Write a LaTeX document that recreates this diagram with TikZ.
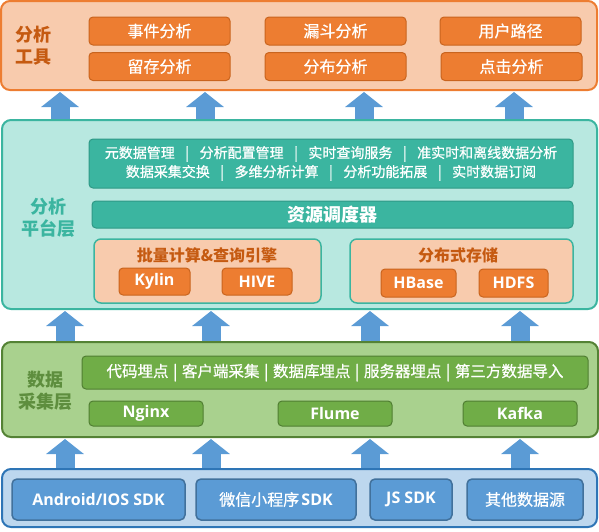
\documentclass[tikz,border=0pt]{standalone}
\usepackage{fontspec}
\setmainfont{Noto Sans CJK SC}
\newfontfamily\cjkm{Noto Sans CJK SC}[FakeBold=0.7]
\newfontfamily\lat{Open Sans}
\usetikzlibrary{arrows.meta}
\definecolor{orL}{HTML}{F8CBAD}
\definecolor{orB}{HTML}{ED7D31}
\definecolor{orD}{HTML}{C9641E}
\definecolor{orT}{HTML}{C55A11}
\definecolor{tlL}{HTML}{B8E8E0}
\definecolor{tlB}{HTML}{3BB5A0}
\definecolor{tlD}{HTML}{2F9986}
\definecolor{grL}{HTML}{A9D18E}
\definecolor{grB}{HTML}{548235}
\definecolor{grM}{HTML}{70AD47}
\definecolor{grD}{HTML}{507E32}
\definecolor{grT}{HTML}{5E8E3E}
\definecolor{blL}{HTML}{BDD7EE}
\definecolor{blB}{HTML}{2E75B6}
\definecolor{blM}{HTML}{5B9BD5}
\definecolor{blD}{HTML}{41719C}
\newcommand\barsepA{\hspace{0.75em}|\hspace{0.75em}}
\newcommand\barsepB{\hspace{0.3em}|\hspace{0.3em}}
\begin{document}
\begin{tikzpicture}[x=1pt,y=-1pt,
  panel/.style={draw, line width=2pt, rounded corners=9pt, inner sep=0pt},
  box/.style={draw, line width=1pt, rounded corners=4pt, inner sep=0pt, text=white},
  orpanel/.style={panel, draw=orB, fill=orL},
  tlpanel/.style={panel, draw=tlB, fill=tlL},
  grpanel/.style={panel, draw=grB, fill=grL},
  blpanel/.style={panel, draw=blB, fill=blL},
  obtn/.style={box, draw=orD, fill=orB},
  tbox/.style={box, draw=tlD, fill=tlB},
  pbox/.style={box, line width=1.5pt, rounded corners=7pt, draw=tlB, fill=orL},
  gbox/.style={box, draw=grD, fill=grM},
  bbox/.style={box, line width=1.5pt, rounded corners=5pt, draw=blD, fill=blM},
  cjk/.style={font=\cjkm\fontsize{16}{19}\selectfont},
  latb/.style={font=\lat\bfseries\fontsize{16}{19}\selectfont},
  layerlabel/.style={align=center, font=\bfseries\fontsize{18}{22}\selectfont},
  arr/.style={draw=blM, line width=19pt, -{Triangle[width=37pt,length=15pt]}, shorten >=1pt}
]
\useasboundingbox (0,0) rectangle (599,531);

% ---------- top layer: analysis tools
\node[orpanel, minimum width=596pt, minimum height=89pt] (top) at (299,45.5) {};
\node[layerlabel, text=orT] (toplbl) at (34,46) {分析\\工具};
\node[obtn, cjk, minimum width=141pt, minimum height=28pt] (b1) at (159.5,31) {事件分析};
\node[obtn, cjk, minimum width=141pt, minimum height=28pt] (b2) at (335.5,31) {漏斗分析};
\node[obtn, cjk, minimum width=141pt, minimum height=28pt] (b3) at (510.5,31) {用户路径};
\node[obtn, cjk, minimum width=141pt, minimum height=28pt] (b4) at (159.5,66.5) {留存分析};
\node[obtn, cjk, minimum width=141pt, minimum height=28pt] (b5) at (335.5,66.5) {分布分析};
\node[obtn, cjk, minimum width=141pt, minimum height=28pt] (b6) at (511.5,66.5) {点击分析};

% ---------- platform layer
\node[tlpanel, minimum width=595pt, minimum height=189pt] (plat) at (299.5,214.5) {};
\node[layerlabel, text=tlB] (platlbl) at (48,218) {分析\\平台层};
\node[tbox, minimum width=484pt, minimum height=49pt, align=center,
      font=\cjkm\fontsize{14}{19}\selectfont] (meta) at (331,163.5)
  {元数据管理\barsepA 分析配置管理\barsepA 实时查询服务\barsepA 准实时和离线数据分析\\
   数据采集交换\barsepA 多维分析计算\barsepA 分析功能拓展\barsepA 实时数据订阅};
\node[tbox, minimum width=481pt, minimum height=27pt,
      font=\bfseries\fontsize{18}{20}\selectfont] (sched) at (332.5,214.5) {资源调度器};
\node[pbox, minimum width=227pt, minimum height=64pt] (batch) at (207.5,271) {};
\node[text=orT, font=\bfseries\fontsize{16}{19}\selectfont] (batchlbl) at (207,255) {批量计算\&查询引擎};
\node[obtn, latb, minimum width=71pt, minimum height=27pt] (kylin) at (154.5,281.5) {Kylin};
\node[obtn, latb, minimum width=70pt, minimum height=27pt] (hive) at (257,281.5) {HIVE};
\node[pbox, minimum width=223pt, minimum height=64pt] (store) at (461.5,271) {};
\node[text=orT, font=\bfseries\fontsize{16}{19}\selectfont] (storelbl) at (458,255) {分布式存储};
\node[obtn, latb, minimum width=75pt, minimum height=28pt] (hbase) at (418.5,283) {HBase};
\node[obtn, latb, minimum width=69pt, minimum height=28pt] (hdfs) at (513.5,283) {HDFS};

% ---------- collection layer
\node[grpanel, minimum width=596pt, minimum height=95pt] (coll) at (300,389.5) {};
\node[layerlabel, text=grT] (colllbl) at (45.5,391) {数据\\采集层};
\node[gbox, minimum width=506pt, minimum height=33pt,
      font=\cjkm\fontsize{15.5}{19}\selectfont] (ways) at (335,372.5)
  {代码埋点\barsepB 客户端采集\barsepB 数据库埋点\barsepB 服务器埋点\barsepB 第三方数据导入};
\node[gbox, latb, minimum width=114pt, minimum height=25pt] (nginx) at (146,413.5) {Nginx};
\node[gbox, latb, minimum width=114pt, minimum height=25pt] (flume) at (335,413.5) {Flume};
\node[gbox, latb, minimum width=114pt, minimum height=25pt] (kafka) at (520,413.5) {Kafka};

% ---------- source layer
\node[blpanel, minimum width=595pt, minimum height=58pt] (src) at (299.5,498) {};
\node[bbox, latb, minimum width=173pt, minimum height=41pt] (s1) at (98.5,499.5) {Android/IOS SDK};
\node[bbox, minimum width=160pt, minimum height=41pt] (s2) at (276,499.5) {{\cjkm\fontsize{16}{19}\selectfont 微信小程序} {\lat\bfseries\fontsize{16}{19}\selectfont SDK}};
\node[bbox, latb, minimum width=82pt, minimum height=41pt] (s3) at (411,499.5) {JS SDK};
\node[bbox, cjk, minimum width=116pt, minimum height=41pt] (s4) at (525,499.5) {其他数据源};

% ---------- arrows
\coordinate (u1) at (60,0);
\coordinate (u2) at (205,0);
\coordinate (u3) at (364,0);
\coordinate (u4) at (514,0);
\coordinate (m1) at (65,0);
\coordinate (m2) at (211,0);
\coordinate (m3) at (370,0);
\coordinate (m4) at (520,0);
\foreach \c in {u1,u2,u3,u4}{\draw[arr] (\c |- plat.north) -- (\c |- top.south);}
\foreach \c in {m1,m2,m3,m4}{\draw[arr] (\c |- coll.north) -- (\c |- plat.south);}
\foreach \c in {m1,m2,m3,m4}{\draw[arr] (\c |- src.north) -- (\c |- coll.south);}
\end{tikzpicture}
\end{document}
